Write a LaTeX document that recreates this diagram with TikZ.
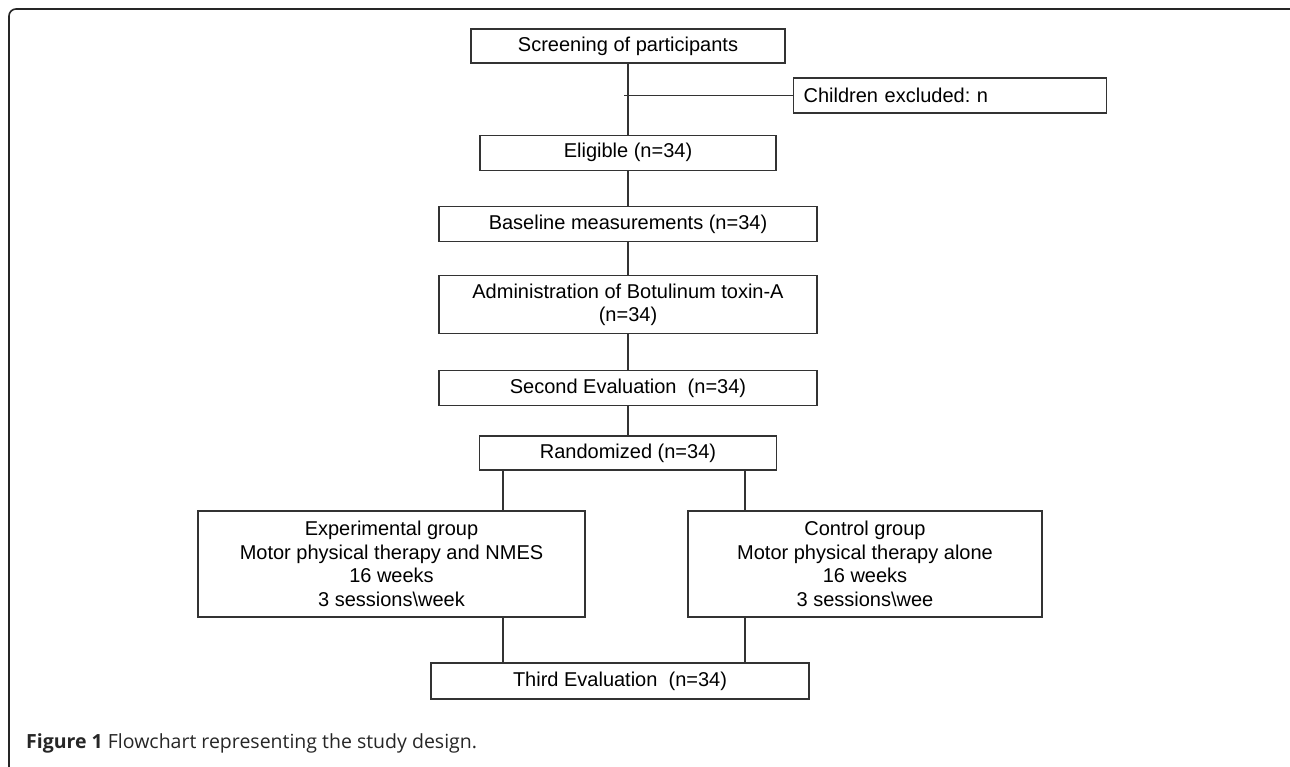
\documentclass[tikz,border=0pt]{standalone}
\usepackage{fontspec}
\setmainfont{Liberation Sans}
\newfontfamily\capfont{Open Sans}
\usetikzlibrary{positioning}
\frenchspacing

\begin{document}
\begin{tikzpicture}[x=1pt, y=-1pt, font=\fontsize{20}{23.5}\selectfont,
  box/.style={draw=black!80, line width=1.2pt, rectangle, inner sep=0pt, align=center},
  link/.style={draw=black!80, line width=1.1pt}]
\useasboundingbox (0,0) rectangle (1290,767);
\draw[black!85, line width=1.6pt, rounded corners=7pt] (9,767) -- (9,9) -- (1290,9);
\node[box, minimum width=314, minimum height=34] (scr) at (628,46) {Screening of participants};
\node[box, anchor=west, text width=293, inner xsep=10pt, minimum height=35, align=left] (excl) at (793,95.5) {Children excluded: n};
\node[box, minimum width=296, minimum height=35] (elig) [below=71pt of scr] {Eligible (n=34)};
\node[box, minimum width=378, minimum height=35] (base) [below=35pt of elig] {Baseline measurements (n=34)};
\node[box, minimum width=378, minimum height=58] (admin) [below=33pt of base] {Administration of Botulinum toxin-A\\(n=34)};
\node[box, minimum width=378, minimum height=35] (second) [below=36pt of admin] {Second Evaluation~ (n=34)};
\node[box, minimum width=297, minimum height=34] (rand) [below=29pt of second] {Randomized (n=34)};
\node[box, minimum width=387, minimum height=106] (exp) at (391.5,564) {Experimental group\\Motor physical therapy and NMES\\16 weeks\\3 sessions\textbackslash week};
\node[box, minimum width=354, minimum height=106] (ctrl) at (865,564) {Control group\\Motor physical therapy alone\\16 weeks\\3 sessions\textbackslash wee};
\node[box, minimum width=378, minimum height=36] (third) at (620,681) {Third Evaluation~ (n=34)};
\coordinate (br) at (624,95.5);
\coordinate (lx) at (503,0);
\coordinate (rx) at (745,0);
\draw[link] (scr.south) -- (elig.north);
\draw[link] (br) -- (excl.west);
\draw[link] (elig.south) -- (base.north);
\draw[link] (base.south) -- (admin.north);
\draw[link] (admin.south) -- (second.north);
\draw[link] (second.south) -- (rand.north);
\draw[link] (rand.south -| lx) -- (exp.north -| lx);
\draw[link] (rand.south -| rx) -- (ctrl.north -| rx);
\draw[link] (exp.south -| lx) -- (third.north -| lx);
\draw[link] (ctrl.south -| rx) -- (third.north -| rx);
\node[anchor=base west, inner sep=0pt, text=black!85, font=\capfont\fontsize{19.5}{22}\selectfont] (cap) at (26,748) {\textbf{Figure 1} Flowchart representing the study design.};
\end{tikzpicture}
\end{document}
